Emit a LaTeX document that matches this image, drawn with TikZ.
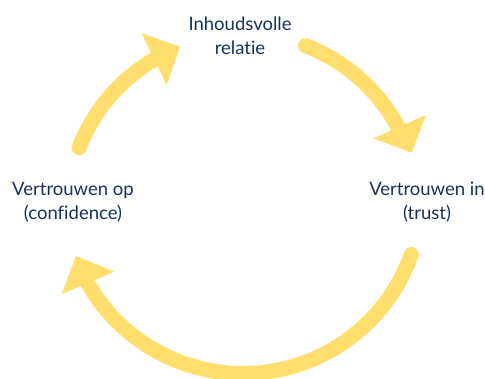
\documentclass[tikz,border=0pt]{standalone}
\usepackage{fontspec}
\setmainfont{Lato}[Ligatures=NoCommon]
\definecolor{arcyellow}{RGB}{255,222,110}
\definecolor{navytext}{RGB}{22,50,90}
\begin{document}
\begin{tikzpicture}[x=1pt,y=-1pt,
  shaft/.style={draw=arcyellow,line width=15pt,line cap=round},
  head/.style={fill=arcyellow},
  label/.style={text=navytext,align=center,font=\fontsize{18.5}{24}\selectfont,inner sep=0pt}]
\useasboundingbox (0,0) rectangle (485,378);
\clip (0,0) rectangle (485,378);
% text nodes
\node[label] (top) at (240,36) {Inhoudsvolle\\relatie};
\node[label] (left) at (73,202) {Vertrouwen op\\(confidence)};
\node[label] (right) at (427,202) {Vertrouwen in\\(trust)};
% top-left arc: left -> top
\draw[shaft] plot[domain=201:239.9,samples=40] ({242.5+175*cos(\x)},{210.6+175*sin(\x)});
\fill[head] (141.7,33.3) -- (180,46.7) -- (166.7,85) -- cycle;
% top-right arc: top -> right
\draw[shaft] plot[domain=290.9:331.9,samples=40] ({242.5+176.5*cos(\x)},{210.6+176.5*sin(\x)});
\fill[head] (426,115) -- (411.7,152.7) -- (373.3,138.3) -- cycle;
% bottom arc: right -> left
\draw[shaft] plot[domain=19.5:150.5,samples=80] ({243+178.5*cos(\x)},{195+178.5*sin(\x)});
\fill[head] (76,256) -- (114.3,271.7) -- (61.7,294) -- cycle;
\end{tikzpicture}
\end{document}
